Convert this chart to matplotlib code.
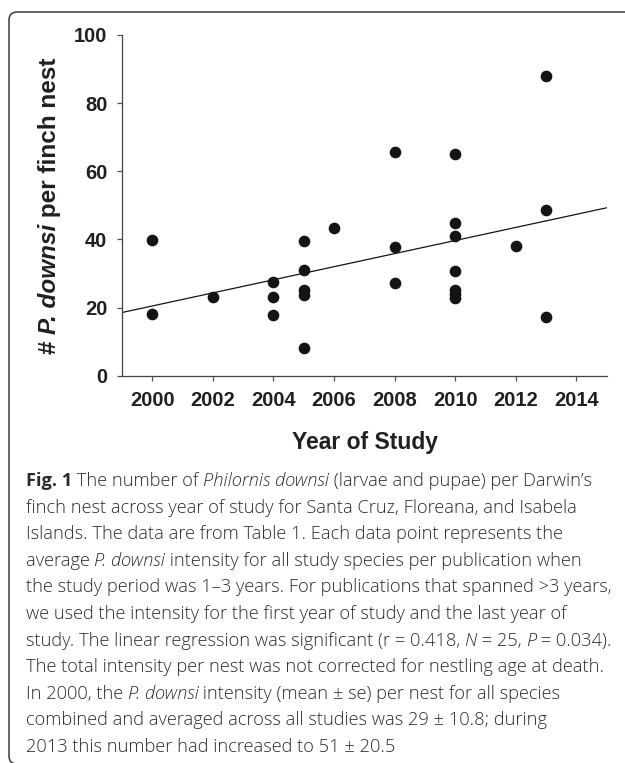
import numpy as np
import matplotlib
matplotlib.use("Agg")
import matplotlib.pyplot as plt
import matplotlib.patches as patches
from matplotlib.path import Path

# data
years = [2000, 2000, 2002, 2004, 2004, 2004, 2005, 2005, 2005, 2005, 2005, 2006,
         2008, 2008, 2008, 2010, 2010, 2010, 2010, 2010, 2010, 2010, 2012,
         2013, 2013, 2013]
intensity = [39.7, 18.1, 23.1, 27.6, 23.2, 17.8, 39.5, 31.1, 25.3, 23.7, 8.1, 43.3,
             65.8, 37.7, 27.2, 65.2, 44.8, 41.0, 30.8, 25.3, 24.0, 22.8, 38.2,
             88.0, 48.6, 17.3]
x_ticks = [2000, 2002, 2004, 2006, 2008, 2010, 2012, 2014]
y_ticks = [0, 20, 40, 60, 80, 100]

ylabel_runs = [("# ", "normal"), ("P. downsi", "italic"), (" per finch nest", "normal")]
xlabel = "Year of Study"

R, I, B = "reg", "it", "bold"
caption = [
    [("Fig. 1", B), (" The number of ", R), ("Philornis downsi", I), (" (larvae and pupae) per Darwin\u2019s", R)],
    [("finch nest across year of study for Santa Cruz, Floreana, and Isabela", R)],
    [("Islands. The data are from Table 1. Each data point represents the", R)],
    [("average ", R), ("P. downsi", I), (" intensity for all study species per publication when", R)],
    [("the study period was 1\u20133 years. For publications that spanned >3 years,", R)],
    [("we used the intensity for the first year of study and the last year of", R)],
    [("study. The linear regression was significant (r = 0.418, ", R), ("N", I), (" = 25, ", R),
     ("P", I), (" = 0.034).", R)],
    [("The total intensity per nest was not corrected for nestling age at death.", R)],
    [("In 2000, the ", R), ("P. downsi", I), (" intensity (mean \u00b1 se) per nest for all species", R)],
    [("combined and averaged across all studies was 29 \u00b1 10.8; during", R)],
    [("2013 this number had increased to 51 \u00b1 20.5", R)],
]

W, H = 625, 763
ink = "#231f20"
fig = plt.figure(figsize=(W / 100, H / 100), dpi=100)

# overlay axes in pixel coordinates for the frame and caption
ov = fig.add_axes([0, 0, 1, 1])
ov.set_xlim(0, W)
ov.set_ylim(H, 0)
ov.axis("off")

# rounded frame (top and left edges)
r = 8
verts = [(W + 5, 12), (9 + r, 12), (9, 12), (9, 12 + r), (9, H - 7), (9, H + 1), (9 + r, H + 1)]
codes = [Path.MOVETO, Path.LINETO, Path.CURVE3, Path.CURVE3, Path.LINETO, Path.CURVE3, Path.CURVE3]
ov.add_patch(patches.PathPatch(Path(verts, codes), fill=False, edgecolor="#3a3a3a", lw=1.1))

# main plot
ax = fig.add_axes([122 / W, 1 - 375.7 / H, (606.7 - 122) / W, (375.7 - 35) / H])
ax.set_facecolor("none")
ax.plot(years, intensity, "o", color="#141414", ms=8.4, mec="none", zorder=3)

slope, icpt = np.polyfit(years, intensity, 1)
xl = np.array([1999, 2015])
ax.plot(xl, slope * xl + icpt, color="#141414", lw=0.9, zorder=2)

ax.set_xlim(1999, 2015)
ax.set_ylim(0, 100)
ax.set_xticks(x_ticks)
ax.set_yticks(y_ticks)
for s in ["top", "right"]:
    ax.spines[s].set_visible(False)
for s in ["left", "bottom"]:
    ax.spines[s].set_color("#444444")
    ax.spines[s].set_linewidth(0.9)
ax.tick_params(axis="both", length=3.6, width=0.9, color="#555555",
               labelcolor=ink, labelsize=14.5)
ax.tick_params(axis="x", pad=7.5)
ax.tick_params(axis="y", pad=7)
for lab in ax.get_xticklabels() + ax.get_yticklabels():
    lab.set_fontfamily("Liberation Sans")
    lab.set_fontweight("bold")

fig.canvas.draw()
renderer = fig.canvas.get_renderer()


def run_width(s, **kw):
    t = ov.text(0, 0, "X" + s + "X", **kw)
    w1 = t.get_window_extent(renderer).width
    t.set_text("XX")
    w2 = t.get_window_extent(renderer).width
    t.remove()
    return w1 - w2


# y label, rotated, with an italic piece
lab_kw = dict(family="Liberation Sans", weight="bold", size=17.5, color=ink)
widths = [run_width(s, style=st, **lab_kw) for s, st in ylabel_runs]
y0 = 206 + sum(widths) / 2
for (s, st), w in zip(ylabel_runs, widths):
    ov.text(56, y0, s, style=st, ha="left", va="baseline", rotation=90,
            rotation_mode="anchor", **lab_kw)
    y0 -= w

# x label
ov.text(364.5, 449.3, xlabel, ha="center", va="baseline", family="Liberation Sans",
        weight="bold", size=16.5, color=ink)

# caption
styles = {R: {"weight": "light"}, I: {"style": "italic", "weight": "light"},
          B: {"weight": "bold"}}
cap_kw = dict(family="Open Sans", color="#2b2b2b")


def line_width(line, size):
    return sum(run_width(s, size=size, **styles[st], **cap_kw) for s, st in line)


cap_size = min(12 * 581.5 / line_width(caption[0], 12),
               12 * 585.0 / line_width(caption[4], 12))
for k, line in enumerate(caption):
    x = 25.5
    yb = 486 + 26.6 * k
    for s, st in line:
        ov.text(x, yb, s, ha="left", va="baseline", size=cap_size, **styles[st], **cap_kw)
        x += run_width(s, size=cap_size, **styles[st], **cap_kw)

fig.savefig("out.png", dpi=100)
